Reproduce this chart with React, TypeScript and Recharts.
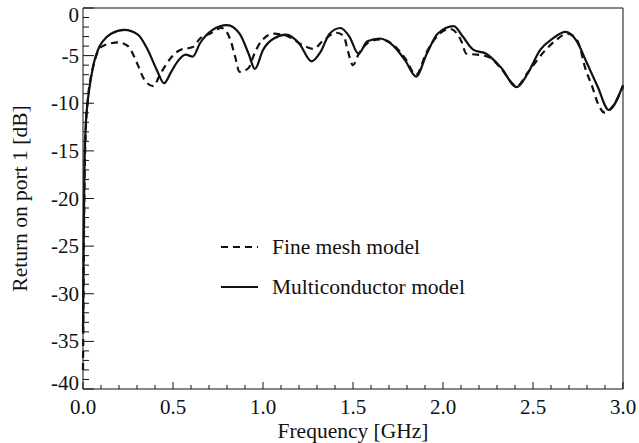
import React from 'react'
import { LineChart, Line, XAxis, YAxis } from 'recharts'

// frequency [GHz] / return loss [dB]
const multiFreq = [0, 0.004, 0.008, 0.015, 0.025, 0.035, 0.046, 0.06, 0.074, 0.09, 0.11, 0.156, 0.23, 0.305, 0.36, 0.41, 0.45, 0.49, 0.53, 0.57, 0.61, 0.65, 0.72, 0.8, 0.87, 0.92, 0.955, 1.0, 1.06, 1.13, 1.2, 1.27, 1.32, 1.37, 1.43, 1.48, 1.53, 1.58, 1.65, 1.72, 1.79, 1.85, 1.91, 1.97, 2.06, 2.11, 2.17, 2.24, 2.32, 2.41, 2.47, 2.54, 2.61, 2.68, 2.74, 2.8, 2.86, 2.92, 3.0]
const multiDb = [-34, -24, -17, -12.5, -10, -8.5, -7.2, -5.8, -4.9, -4.1, -3.5, -2.7, -2.3, -2.8, -4.4, -6.5, -7.9, -6.7, -5.5, -4.9, -5.1, -3.7, -2.3, -1.8, -2.7, -4.8, -6.4, -4.4, -3.2, -2.8, -3.7, -5.6, -4.6, -2.7, -2.1, -3.0, -4.8, -3.5, -3.2, -3.9, -5.5, -7.2, -4.8, -2.7, -1.9, -3.0, -4.4, -4.8, -6.2, -8.3, -6.9, -4.4, -3.2, -2.5, -3.4, -5.8, -8.3, -10.7, -8.1]

const fineFreq = [0, 0.004, 0.008, 0.015, 0.025, 0.035, 0.046, 0.06, 0.074, 0.09, 0.11, 0.156, 0.195, 0.25, 0.305, 0.34, 0.39, 0.43, 0.49, 0.54, 0.61, 0.65, 0.705, 0.77, 0.82, 0.845, 0.87, 0.92, 0.95, 0.99, 1.06, 1.13, 1.22, 1.28, 1.33, 1.41, 1.45, 1.47, 1.5, 1.53, 1.58, 1.65, 1.72, 1.79, 1.85, 1.91, 1.97, 2.04, 2.1, 2.13, 2.19, 2.26, 2.32, 2.41, 2.47, 2.57, 2.62, 2.69, 2.74, 2.76, 2.79, 2.83, 2.86, 2.9, 2.94, 3.0]
const fineDb = [-38, -27, -19, -13, -10, -8.2, -7.0, -5.9, -5.0, -4.3, -4.0, -3.7, -3.6, -4.0, -6.0, -7.5, -8.2, -6.9, -5.2, -4.4, -4.1, -3.2, -2.7, -2.1, -3.4, -5.1, -6.7, -6.3, -4.9, -3.5, -2.7, -2.9, -3.9, -4.3, -3.5, -2.6, -3.0, -4.4, -6.0, -4.9, -3.7, -3.3, -3.8, -5.3, -7.0, -4.6, -2.9, -2.2, -3.4, -4.8, -4.9, -5.2, -6.3, -8.2, -6.8, -4.4, -3.5, -2.7, -3.2, -4.1, -6.3, -8.3, -10.0, -11.0, -10.4, -8.3]

const xTicks = [0, 0.1, 0.2, 0.3, 0.4, 0.5, 0.6, 0.7, 0.8, 0.9, 1.0, 1.1, 1.2, 1.3, 1.4, 1.5, 1.6, 1.7, 1.8, 1.9, 2.0, 2.1, 2.2, 2.3, 2.4, 2.5, 2.6, 2.7, 2.8, 2.9, 3.0]
const yTicks = [-40, -39, -38, -37, -36, -35, -34, -33, -32, -31, -30, -29, -28, -27, -26, -25, -24, -23, -22, -21, -20, -19, -18, -17, -16, -15, -14, -13, -12, -11, -10, -9, -8, -7, -6, -5, -4, -3, -2, -1, 0]

const series = [
  { name: 'Fine mesh model', freq: fineFreq, db: fineDb, dash: '7 5' },
  { name: 'Multiconductor model', freq: multiFreq, db: multiDb, dash: undefined },
]

const FONT = 'Liberation Serif, Times New Roman, serif'
const ink = '#111'

const isMajor = (v: number, step: number) => Math.abs(v / step - Math.round(v / step)) < 1e-6

const BottomTick = ({ x, y, payload }: any) => {
  const v = payload.value
  const major = isMajor(v, 0.5)
  return (
    <g>
      <line x1={x} x2={x} y1={y} y2={y - (major ? 7 : 4)} stroke={ink} />
      {major && (
        <text x={x} y={y + 25} textAnchor="middle" fontFamily={FONT} fontSize={21} fill={ink}>
          {v.toFixed(1)}
        </text>
      )}
    </g>
  )
}

const TopTick = ({ x, y, payload }: any) => {
  const major = isMajor(payload.value, 0.5)
  return <line x1={x} x2={x} y1={y} y2={y + (major ? 7 : 4)} stroke={ink} />
}

const LeftTick = ({ x, y, payload }: any) => {
  const v = payload.value
  const major = isMajor(v, 5)
  // the end labels are nudged inside the frame
  const dy = v === 0 ? 7 : v === -40 ? -6 : 0
  return (
    <g>
      <line x1={x} x2={x + (major ? 11 : 6)} y1={y} y2={y} stroke={ink} />
      {major && (
        <text x={x - 4} y={y + dy + 7} textAnchor="end" fontFamily={FONT} fontSize={21} fill={ink}>
          {v}
        </text>
      )}
    </g>
  )
}

const RightTick = ({ x, y, payload }: any) => {
  const major = isMajor(payload.value, 5)
  return <line x1={x} x2={x - (major ? 10 : 4)} y1={y} y2={y} stroke={ink} />
}

const LegendBox = () => (
  <div style={{ position: 'absolute', left: 218, top: 233, fontSize: 21.5, color: ink }}>
    {series.map((s) => (
      <div key={s.name} style={{ display: 'flex', alignItems: 'center', height: 28, marginBottom: 12 }}>
        <svg width={42} height={10} style={{ marginRight: 12 }}>
          <line x1={3} x2={40} y1={5} y2={5} stroke={ink} strokeWidth={2} strokeDasharray={s.dash} />
        </svg>
        <span>{s.name}</span>
      </div>
    ))}
  </div>
)

export default function App() {
  const lines = series.map((s) => ({ ...s, data: s.freq.map((f, i) => ({ f, db: s.db[i] })) }))

  return (
    <div style={{ position: 'absolute', left: 0, top: 0, width: 639, height: 443, background: '#fff', fontFamily: FONT }}>
      <LineChart width={639} height={443} margin={{ top: 0, right: 0, bottom: 0, left: 0 }}>
        <XAxis
          xAxisId="bottom"
          type="number"
          dataKey="f"
          domain={[0, 3]}
          ticks={xTicks}
          interval={0}
          height={54}
          tickSize={0}
          tickMargin={0}
          tickLine={false}
          tick={BottomTick}
          axisLine={{ stroke: ink }}
          label={{
            content: ({ viewBox }: any) => (
              <text x={viewBox.x + viewBox.width / 2} y={viewBox.y + viewBox.height - 5} textAnchor="middle" fontFamily={FONT} fontSize={21.5} fill={ink}>
                Frequency [GHz]
              </text>
            ),
          }}
        />
        <XAxis
          xAxisId="top"
          orientation="top"
          type="number"
          dataKey="f"
          domain={[0, 3]}
          ticks={xTicks}
          interval={0}
          height={8}
          tickSize={0}
          tickMargin={0}
          tickLine={false}
          tick={TopTick}
          axisLine={{ stroke: ink }}
        />
        <YAxis
          yAxisId="left"
          type="number"
          domain={[-40, 0]}
          ticks={yTicks}
          interval={0}
          width={83}
          tickSize={0}
          tickMargin={0}
          tickLine={false}
          tick={LeftTick}
          axisLine={{ stroke: ink }}
          label={{
            content: ({ viewBox }: any) => {
              const cx = viewBox.x + 20
              const cy = viewBox.y + viewBox.height / 2
              return (
                <text x={cx} y={cy} transform={`rotate(-90 ${cx} ${cy})`} textAnchor="middle" dominantBaseline="central" fontFamily={FONT} fontSize={21.5} fill={ink}>
                  Return on port 1 [dB]
                </text>
              )
            },
          }}
        />
        <YAxis
          yAxisId="right"
          orientation="right"
          type="number"
          domain={[-40, 0]}
          ticks={yTicks}
          interval={0}
          width={16}
          tickSize={0}
          tickMargin={0}
          tickLine={false}
          tick={RightTick}
          axisLine={{ stroke: ink }}
        />
        {lines.map((s) => (
          <Line
            key={s.name}
            xAxisId="bottom"
            yAxisId="left"
            data={s.data}
            dataKey="db"
            name={s.name}
            type="monotone"
            stroke={ink}
            strokeWidth={2.2}
            strokeDasharray={s.dash}
            dot={false}
            activeDot={false}
            isAnimationActive={false}
          />
        ))}
      </LineChart>
      <LegendBox />
    </div>
  )
}
